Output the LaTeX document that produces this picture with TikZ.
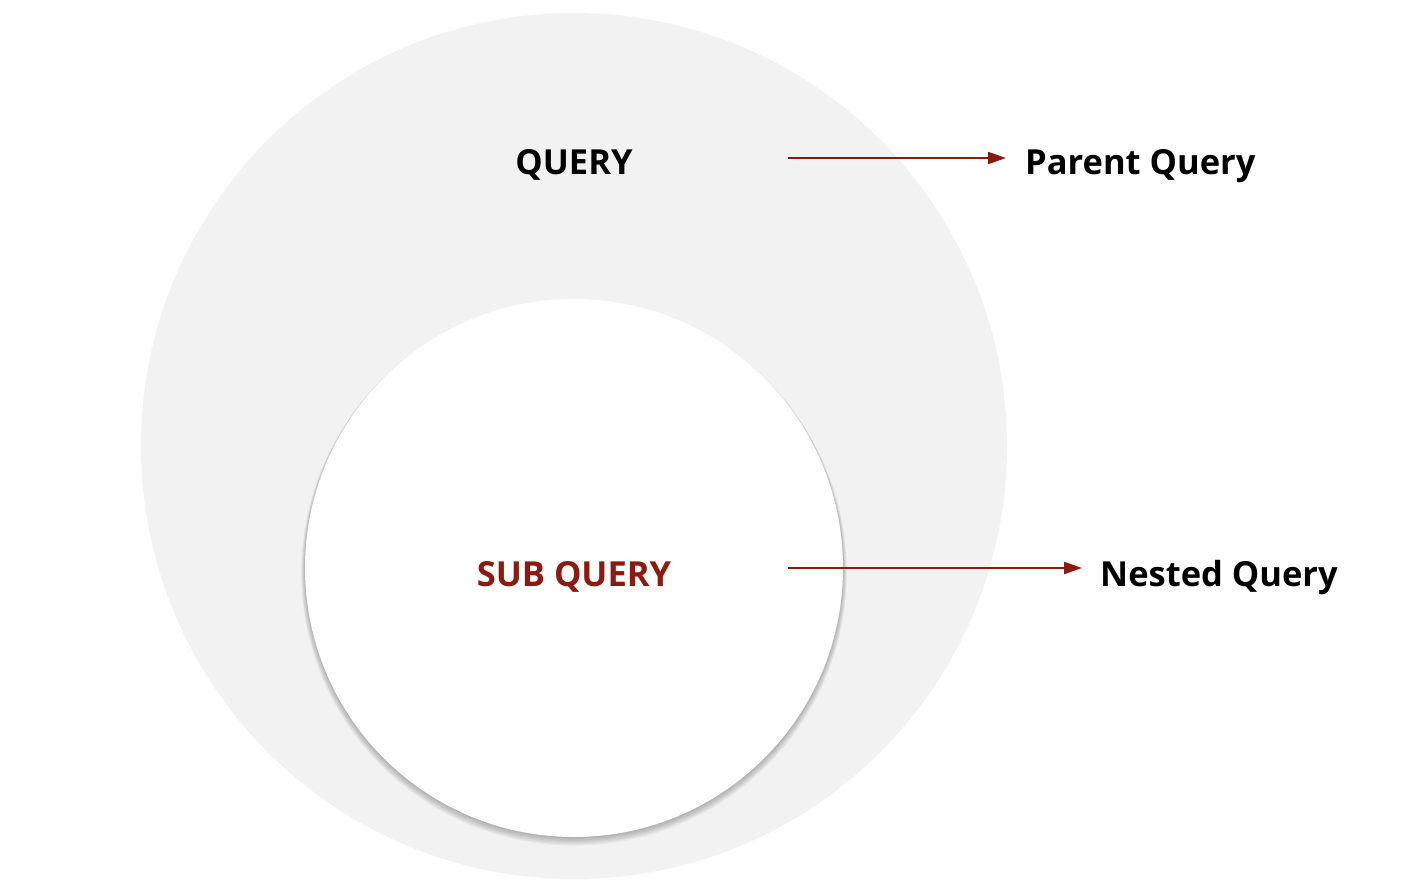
\documentclass[tikz,border=0pt]{standalone}
\usepackage{fontspec}
\setmainfont{Open Sans}
\usepackage{xcolor}
\usetikzlibrary{positioning, arrows.meta}

\definecolor{outergray}{HTML}{F2F2F2}
\definecolor{darkred}{HTML}{8B1A10}

\begin{document}
\begin{tikzpicture}[
		x=1pt, y=-1pt,
		every node/.style={font=\fontsize{34.5}{40}\selectfont\bfseries, inner sep=0pt},
		label/.style={anchor=base west},
		title/.style={anchor=base},
		pointer/.style={-{Triangle[length=18pt, width=12pt]}, line width=2pt, darkred}
		]
		\useasboundingbox (0,0) rectangle (1414,896);
		
		% Outer circle (parent)
		\fill[outergray] (574,446) circle[radius=433];
		
		% Shadow of inner circle
		\foreach \i in {1,...,8}
			\fill[black, opacity=0.04] (574,{568+0.6*\i}) circle[radius={268+0.6*\i}];
		\fill[white] (574,568) circle[radius=269];
		
		% Circle labels
		\node[title] (query) at (574,175) {QUERY};
		\node[title, text=darkred] (subquery) at (574,586) {SUB QUERY};
		
		% Side labels
		\node[label] (parent) at (1025,175) {Parent Query};
		\node[label] (nested) at (1100,586) {Nested Query};
		
		% Arrow ends
		\coordinate (start1) at (788,158);
		\coordinate (end1) at (1006,158);
		\coordinate (start2) at (788,568);
		\coordinate (end2) at (1082,568);
		
		% Pointers
		\draw[pointer] (start1) -- (end1);
		\draw[pointer] (start2) -- (end2);
		
	\end{tikzpicture}
\end{document}
